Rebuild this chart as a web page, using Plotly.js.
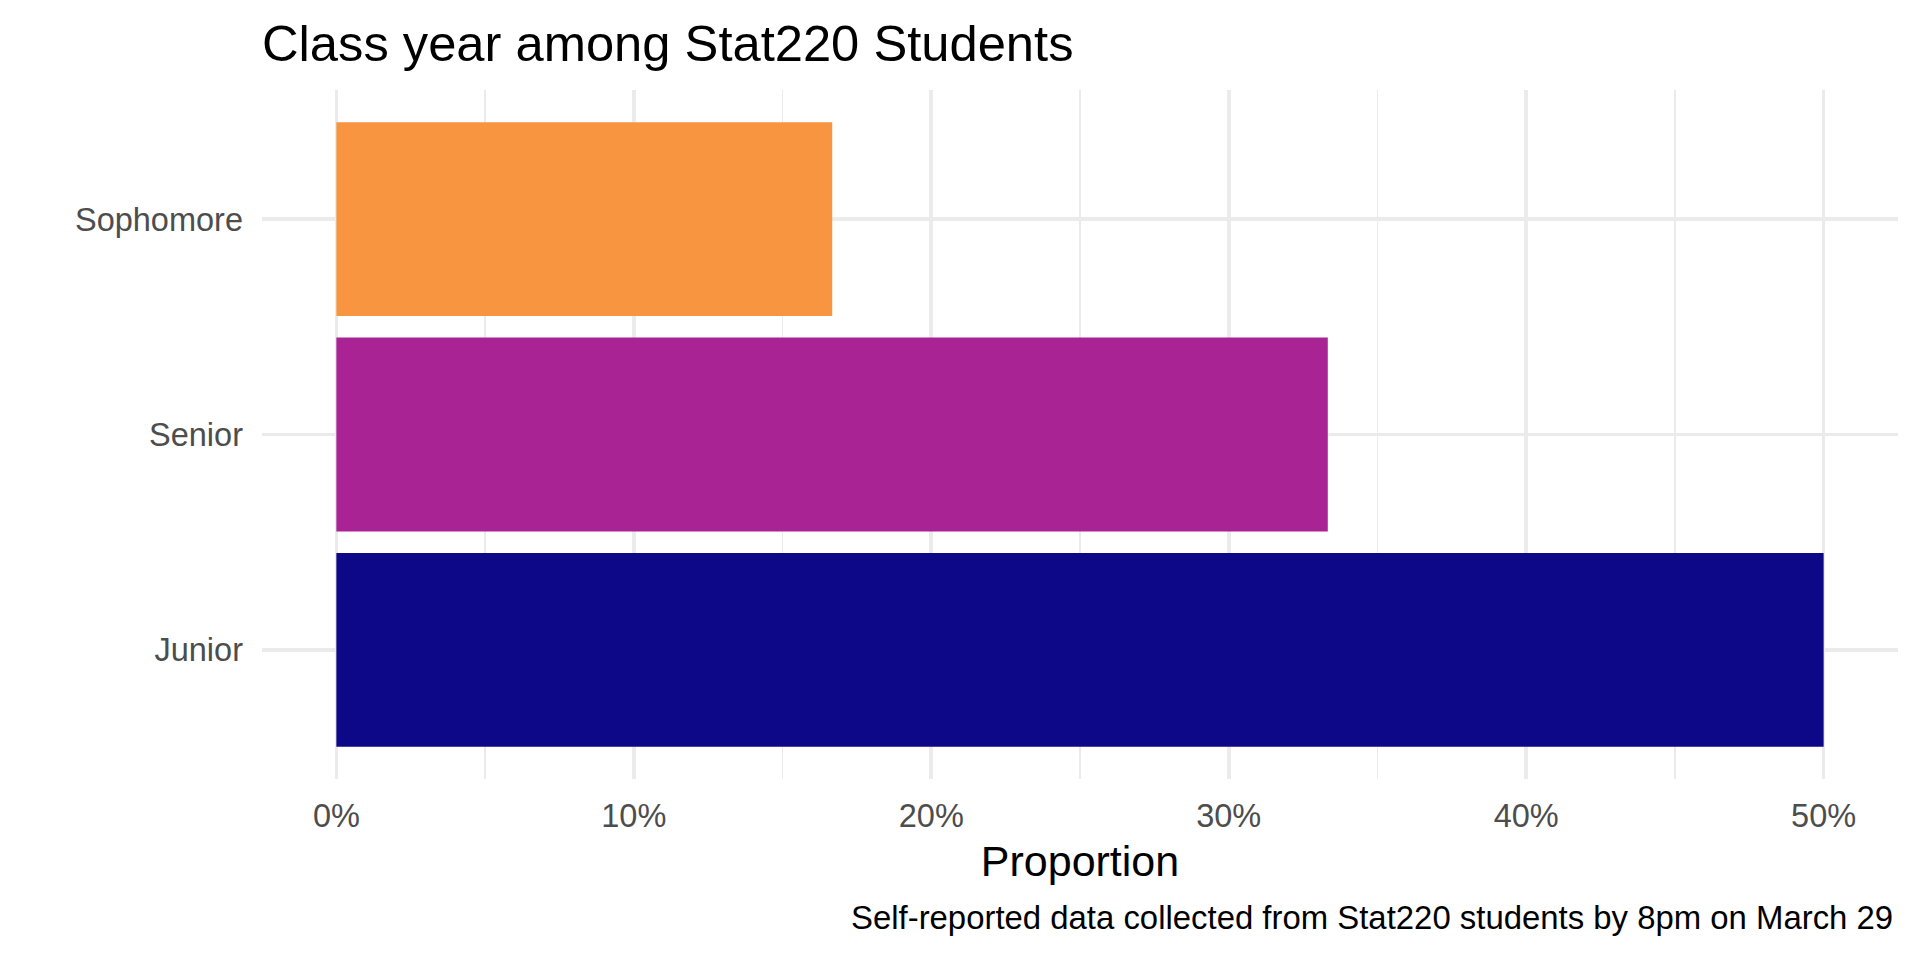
<!DOCTYPE html>
<html>
<head>
<meta charset="utf-8">
<script src="https://cdn.plot.ly/plotly-3.0.1.min.js"></script>
<style>html,body{margin:0;padding:0;background:#fff;}#chart{width:1920px;height:960px;}</style>
</head>
<body>
<div id="chart"></div>
<script>
// Data
const classYears = ["Junior", "Senior", "Sophomore"];
const proportions = [0.5, 0.3333, 0.1667];
const barColors = ["#0D0887", "#AA2395", "#F89540"];
const xTickVals = [0, 0.1, 0.2, 0.3, 0.4, 0.5];
const xTickText = ["0%", "10%", "20%", "30%", "40%", "50%"];

const FONT = "Liberation Sans, Arial, Helvetica, sans-serif";

const trace = {
  type: "bar",
  orientation: "h",
  y: classYears,
  x: proportions,
  marker: {color: barColors, line: {width: 0}},
  hoverinfo: "x+y"
};

const layout = {
  width: 1920,
  height: 960,
  paper_bgcolor: "#ffffff",
  plot_bgcolor: "#ffffff",
  showlegend: false,
  bargap: 0.1,
  margin: {l: 262, r: 22, t: 90, b: 181, pad: 0},
  font: {family: FONT, color: "#000000"},
  title: {
    text: "Class year among Stat220 Students",
    font: {family: FONT, size: 50.7, color: "#000000"},
    xref: "paper", x: 0, xanchor: "left",
    yref: "container", y: 1 - 43/960, yanchor: "middle"
  },
  xaxis: {
    range: [-0.025, 0.525],
    tickvals: xTickVals,
    ticktext: xTickText,
    showgrid: true,
    gridcolor: "#EBEBEB",
    gridwidth: 3.6,
    minor: {dtick: 0.05, tick0: 0, showgrid: true, gridcolor: "#EBEBEB", gridwidth: 1.8},
    zeroline: false,
    showline: false,
    ticks: "",
    ticklabelstandoff: 14,
    tickfont: {family: FONT, size: 32.5, color: "#4D4D4D"},
    title: {text: "Proportion", font: {family: FONT, size: 43, color: "#000000"}, standoff: 13},
    fixedrange: true
  },
  yaxis: {
    type: "category",
    categoryorder: "array",
    categoryarray: classYears,
    range: [-0.6, 2.6],
    showgrid: true,
    gridcolor: "#EBEBEB",
    gridwidth: 3.6,
    zeroline: false,
    showline: false,
    ticks: "",
    ticklabelstandoff: 18,
    tickfont: {family: FONT, size: 32.5, color: "#4D4D4D"},
    fixedrange: true
  },
  annotations: [{
    text: "Self-reported data collected from Stat220 students by 8pm on March 29",
    xref: "paper", yref: "paper",
    x: 1, xanchor: "right",
    y: 0, yanchor: "middle",
    yshift: -(917 - 779),
    xshift: -3,
    showarrow: false,
    font: {family: FONT, size: 32.9, color: "#000000"}
  }]
};

Plotly.newPlot("chart", [trace], layout, {displayModeBar: false, staticPlot: true});
</script>
</body>
</html>
